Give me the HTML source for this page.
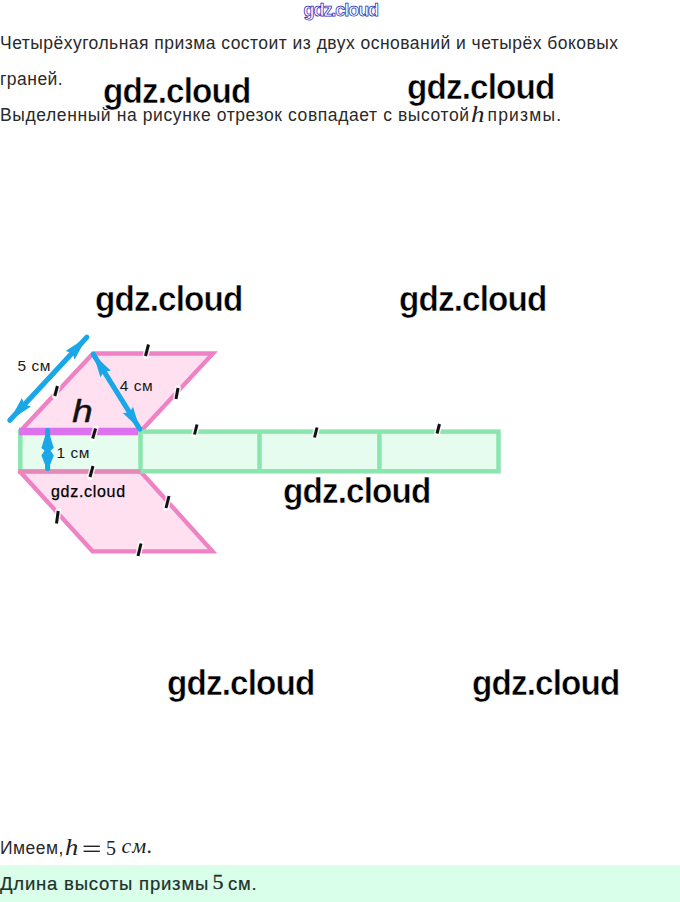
<!DOCTYPE html>
<html>
<head>
<meta charset="utf-8">
<style>
html,body{margin:0;padding:0;background:#fff;}
body{width:680px;height:902px;position:relative;overflow:hidden;font-family:"Liberation Sans",sans-serif;color:#262626;}
.t{position:absolute;left:0;white-space:nowrap;font-size:17.5px;line-height:20px;letter-spacing:0.47px;color:#2a2a2a;}
.wm{position:absolute;font-family:"Liberation Sans",sans-serif;font-weight:bold;font-size:35px;line-height:40px;letter-spacing:-0.9px;transform:scaleX(0.95);transform-origin:0 0;color:#000;white-space:nowrap;-webkit-text-stroke:0.5px #fff;}
.mi{font-family:"Liberation Serif",serif;font-style:italic;}
.mr{font-family:"Liberation Serif",serif;}
.tb{position:absolute;white-space:nowrap;font-size:18.5px;line-height:22px;letter-spacing:0.8px;color:#21302a;-webkit-text-stroke:0.2px #21302a;}
#band{position:absolute;left:0;top:865px;width:680px;height:37px;background:#d9feea;}
</style>
</head>
<body>
<svg style="position:absolute;left:0;top:0" width="680" height="30">
<text x="303.5" y="16" font-family="Liberation Sans" font-weight="bold" font-size="18" letter-spacing="-1.05" fill="#fff" stroke="#2a2ab8" stroke-width="0.75">gdz.cloud</text>
</svg>
<div class="t" style="top:33px">Четырёхугольная призма состоит из двух оснований и четырёх боковых</div>
<div class="t" style="top:69px">граней.</div>
<div class="t" style="top:104.5px;letter-spacing:0.6px">Выделенный на рисунке отрезок совпадает с высотой</div>
<div class="mi" style="position:absolute;left:471px;top:101px;font-size:23px;line-height:28px;color:#222;transform:scaleX(1.18);transform-origin:0 0">h</div>
<div class="t" style="left:487.5px;top:104.5px;letter-spacing:1.2px">призмы.</div>

<svg style="position:absolute;left:0;top:0" width="680" height="902">
 <!-- top parallelogram -->
 <polygon points="20,431.5 93,353.5 213,353.5 140.5,431.5" fill="#fee0f1"/>
 <polyline points="19,432.5 93,353.5 213,353.5 140.5,431.5" fill="none" stroke="#ee82c4" stroke-width="4.3" stroke-linejoin="miter" stroke-miterlimit="10"/>
 <!-- bottom parallelogram -->
 <polygon points="20,471.5 140.5,471.5 212.5,551.3 92.5,551.3" fill="#fee0f1"/>
 <polyline points="19,470.5 92.5,551.3 212.5,551.3 140.5,471.5" fill="none" stroke="#ee82c4" stroke-width="4.3" stroke-miterlimit="10"/>
 <!-- green rects -->
 <rect x="20.3" y="431.6" width="478.2" height="39.7" fill="#e6fcef" stroke="#8ae6ae" stroke-width="4.5"/>
 <line x1="140.5" y1="431.8" x2="140.5" y2="471.8" stroke="#8ae6ae" stroke-width="4.5"/>
 <line x1="259.5" y1="431.8" x2="259.5" y2="471.8" stroke="#8ae6ae" stroke-width="4.5"/>
 <line x1="379.4" y1="431.8" x2="379.4" y2="471.8" stroke="#8ae6ae" stroke-width="4.5"/>
 <line x1="18" y1="471.5" x2="140.5" y2="471.5" stroke="#e58ab8" stroke-width="4.5"/>
 <!-- purple h -->
 <line x1="19" y1="431.5" x2="138" y2="431.5" stroke="#dc72ee" stroke-width="7.5"/>
 <!-- arrows -->
 <g stroke="#19a7e8" stroke-width="5.2" stroke-linecap="round" fill="none">
  <line x1="9.8" y1="420.2" x2="86.8" y2="337.2"/>
  <line x1="93.5" y1="354.5" x2="139.8" y2="429"/>
 </g>
 <g fill="#19a7e8">
  <polygon points="86.8,337.2 74.7,359.4 72.2,353.0 65.6,350.9"/>
  <polygon points="9.8,420.2 21.9,398.0 24.4,404.4 31.0,406.5"/>
  <polygon points="93.5,354.5 110.9,370.8 104.1,371.5 100.4,377.3"/>
  <polygon points="139.8,429.0 122.8,413.1 129.5,412.4 133.0,406.7"/>
  <rect x="45.1" y="428" width="5" height="43" rx="2"/>
  <polygon points="47.6,428 53.8,448 50.6,450.5 53.8,455.5 47.6,471 41.4,455.5 44.6,450.5 41.4,448"/>
 </g>
 <!-- labels -->
 <g font-family="Liberation Sans" font-size="15.5" letter-spacing="0.5" fill="#1a1a1a">
 <text x="17.6" y="371">5 см</text>
 <text x="119.8" y="390.8">4 см</text>
 <text x="56.5" y="457.8">1 см</text>
 </g>
 <text transform="translate(72.3,422) scale(1.2,1)" x="0" y="0" font-family="Liberation Sans" font-style="italic" font-size="30.5" fill="#111" stroke="#111" stroke-width="0.5">h</text>
 <!-- tick halos -->
 <g stroke="#fff" stroke-width="6" stroke-linecap="round" opacity="0.8">
  <line x1="148.5" y1="344.5" x2="145.5" y2="356"/>
  <line x1="178" y1="388" x2="176" y2="399"/>
  <line x1="57.4" y1="386" x2="54.8" y2="396"/>
  <line x1="95.6" y1="428.5" x2="92.7" y2="438.5"/>
  <line x1="197" y1="424.5" x2="194.5" y2="434.5"/>
  <line x1="317" y1="427.5" x2="314.5" y2="437.5"/>
  <line x1="439.5" y1="424" x2="437" y2="433.5"/>
  <line x1="93" y1="466" x2="90" y2="477"/>
  <line x1="169" y1="496" x2="166" y2="508"/>
  <line x1="58.2" y1="511" x2="56.5" y2="523.5"/>
  <line x1="141" y1="543.5" x2="138" y2="556"/>
 </g>
 <g stroke="#111" stroke-width="3" stroke-linecap="butt">
  <line x1="148.5" y1="344.5" x2="145.5" y2="356"/>
  <line x1="178" y1="388" x2="176" y2="399"/>
  <line x1="57.4" y1="386" x2="54.8" y2="396"/>
  <line x1="95.6" y1="428.5" x2="92.7" y2="438.5"/>
  <line x1="197" y1="424.5" x2="194.5" y2="434.5"/>
  <line x1="317" y1="427.5" x2="314.5" y2="437.5"/>
  <line x1="439.5" y1="424" x2="437" y2="433.5"/>
  <line x1="93" y1="466" x2="90" y2="477"/>
  <line x1="169" y1="496" x2="166" y2="508"/>
  <line x1="58.2" y1="511" x2="56.5" y2="523.5"/>
  <line x1="141" y1="543.5" x2="138" y2="556"/>
 </g>
</svg>
<div style="position:absolute;left:51px;top:482px;font:16px/20px 'Liberation Sans',sans-serif;letter-spacing:0.7px;color:#000;white-space:nowrap;-webkit-text-stroke:0.25px #000">gdz.cloud</div>

<div class="wm" style="left:103px;top:70.6px">gdz.cloud</div>
<div class="wm" style="left:407px;top:67.3px">gdz.cloud</div>
<div class="wm" style="left:95px;top:279.2px">gdz.cloud</div>
<div class="wm" style="left:399px;top:279.2px">gdz.cloud</div>
<div class="wm" style="left:283px;top:470.7px">gdz.cloud</div>
<div class="wm" style="left:167px;top:663.2px">gdz.cloud</div>
<div class="wm" style="left:471.5px;top:663.2px">gdz.cloud</div>

<div class="t" style="top:838px">Имеем,</div>
<div class="mi" style="position:absolute;left:65px;top:833.5px;font-size:22.5px;line-height:28px;color:#222;transform:scaleX(1.18);transform-origin:0 0">h</div>
<svg style="position:absolute;left:0;top:830px" width="200" height="30"><rect x="83.6" y="15.6" width="16.2" height="1.4" fill="#222"/><rect x="83.6" y="20.6" width="16.2" height="1.4" fill="#222"/></svg>
<div class="mr" style="position:absolute;left:106px;top:833.5px;font-size:20px;line-height:28px;color:#222">5</div>
<div class="mi" style="position:absolute;left:121.5px;top:831.5px;font-size:21.8px;line-height:28px;letter-spacing:1px;color:#222">см.</div>
<div id="band"></div>
<div class="tb" style="left:0;top:873px">Длина высоты призмы</div>
<div class="mr" style="position:absolute;left:212.5px;top:867.5px;font-size:22px;line-height:28px;color:#21302a;-webkit-text-stroke:0.3px #21302a">5</div>
<div class="tb" style="left:228px;top:873px">см.</div>
</body>
</html>
